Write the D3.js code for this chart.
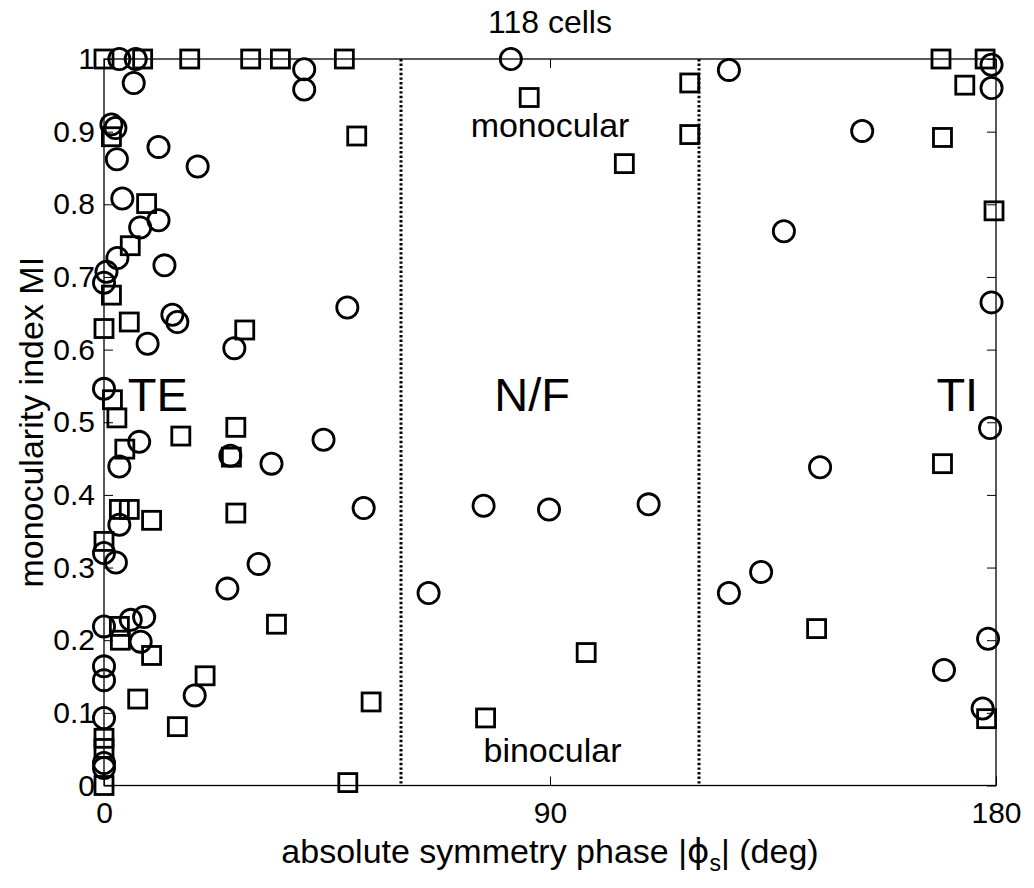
<!DOCTYPE html>
<html>
<head>
<meta charset="utf-8">
<script src="https://cdn.jsdelivr.net/npm/d3@7"></script>
<style>
  body { margin: 0; background: #fff; }
  text { font-family: "Liberation Sans", Arial, sans-serif; fill: #000; }
</style>
</head>
<body>
<div id="wrapper"></div>
<script>
// circles: [phase (deg), MI]
const circles = [
  [3.1, 1.0], [6.4, 1.0], [6.0, 0.967], [40.4, 0.986], [40.4, 0.958],
  [1.5, 0.91], [2.3, 0.905], [2.6, 0.862], [11.0, 0.879], [18.9, 0.852],
  [3.7, 0.808], [11.0, 0.778], [7.3, 0.768], [2.7, 0.726], [12.2, 0.716],
  [0.5, 0.707], [0, 0.692], [13.8, 0.648], [14.8, 0.638], [8.8, 0.608],
  [26.3, 0.602], [49.1, 0.658], [0, 0.546], [7.1, 0.473], [3.1, 0.439],
  [25.5, 0.454], [33.8, 0.443], [44.3, 0.476], [52.4, 0.382], [3.1, 0.359],
  [0, 0.320], [2.4, 0.307], [31.2, 0.305], [24.9, 0.271], [0, 0.219],
  [5.4, 0.228], [8.1, 0.232], [7.4, 0.198], [0, 0.164], [0, 0.145],
  [18.3, 0.124], [0, 0.093], [0, 0.031], [0, 0.024],
  [82.1, 1.0], [76.6, 0.385], [89.8, 0.380], [109.9, 0.387], [65.5, 0.265],
  [126.1, 0.985], [179.1, 0.992], [179.1, 0.960], [153.0, 0.901], [137.2, 0.763],
  [179.1, 0.665], [178.8, 0.492], [144.5, 0.438], [132.6, 0.294], [126.1, 0.265],
  [178.4, 0.202], [169.5, 0.159], [177.3, 0.106]
];

// squares: [phase (deg), MI]
const squares = [
  [0, 1.0], [7.8, 1.0], [17.3, 1.0], [29.6, 1.0], [35.6, 1.0], [48.5, 1.0],
  [51.0, 0.894], [1.5, 0.893], [8.6, 0.801], [5.3, 0.743], [1.5, 0.675],
  [5.1, 0.638], [0, 0.629], [28.4, 0.627], [1.7, 0.531], [2.6, 0.506],
  [4.2, 0.463], [15.5, 0.481], [26.6, 0.493], [25.7, 0.452], [3.1, 0.380],
  [5.1, 0.380], [9.6, 0.365], [26.6, 0.375], [0, 0.336], [34.8, 0.222],
  [3.1, 0.219], [3.3, 0.200], [9.6, 0.179], [6.8, 0.119], [20.4, 0.151],
  [14.8, 0.081], [0, 0.065], [0, 0.051], [0, 0.0], [53.9, 0.115], [49.2, 0.004],
  [85.8, 0.947], [118.2, 0.967], [118.2, 0.896], [105.0, 0.856], [97.3, 0.183], [77.0, 0.093],
  [168.9, 1.0], [177.8, 1.0], [173.7, 0.964], [169.2, 0.892], [179.6, 0.791],
  [169.2, 0.443], [143.8, 0.216], [178.1, 0.092]
];

const boundaries = [60, 120];
const xTicks = [0, 90, 180];
const yTicks = [0, 0.1, 0.2, 0.3, 0.4, 0.5, 0.6, 0.7, 0.8, 0.9, 1];
const regionLabels = ["TE", "N/F", "TI"];

const width = 1034, height = 888;
const margin = { top: 59, right: 38, bottom: 102.5, left: 104 };
const boundedWidth = width - margin.left - margin.right;
const boundedHeight = height - margin.top - margin.bottom;

const svg = d3.select("#wrapper").append("svg")
  .attr("width", width)
  .attr("height", height);
const bounds = svg.append("g")
  .attr("transform", `translate(${margin.left},${margin.top})`);

const x = d3.scaleLinear().domain([0, 180]).range([0, boundedWidth]);
const y = d3.scaleLinear().domain([0, 1]).range([boundedHeight, 0]);

// region boundaries (dotted)
bounds.selectAll(".boundary")
  .data(boundaries)
  .join("line")
  .attr("x1", d => Math.round(x(d))).attr("x2", d => Math.round(x(d)))
  .attr("y1", 0).attr("y2", boundedHeight)
  .attr("stroke", "#000")
  .attr("stroke-width", 3)
  .attr("stroke-dasharray", "2.4,2.2");

// axes, ticks pointing inward
const fmt = d => String(d);
const tickStyle = g => {
  g.select(".domain").remove();
  g.selectAll(".tick line").attr("stroke", "#000").attr("stroke-width", 1);
  g.selectAll(".tick text")
    .style("font-family", '"Liberation Sans", Arial, sans-serif')
    .style("font-size", "30px")
    .attr("fill", "#000");
};
bounds.append("g")
  .attr("transform", `translate(0,${boundedHeight})`)
  .call(d3.axisBottom(x).tickValues(xTicks).tickFormat(fmt).tickSizeInner(-9).tickSizeOuter(0).tickPadding(16))
  .call(tickStyle);
bounds.append("g")
  .call(d3.axisTop(x).tickValues(xTicks).tickFormat("").tickSizeInner(-9).tickSizeOuter(0))
  .call(tickStyle);
bounds.append("g")
  .call(d3.axisLeft(y).tickValues(yTicks).tickFormat(fmt).tickSizeInner(-9).tickSizeOuter(0).tickPadding(9))
  .call(tickStyle);
bounds.append("g")
  .attr("transform", `translate(${boundedWidth},0)`)
  .call(d3.axisRight(y).tickValues(yTicks).tickFormat("").tickSizeInner(-9).tickSizeOuter(0))
  .call(tickStyle);

// box
bounds.append("rect")
  .attr("width", boundedWidth)
  .attr("height", boundedHeight)
  .attr("fill", "none")
  .attr("stroke", "#000")
  .attr("stroke-width", 1.3);

// markers
bounds.selectAll(".sq")
  .data(squares)
  .join("rect")
  .attr("x", d => x(d[0]) - 9)
  .attr("y", d => y(d[1]) - 9)
  .attr("width", 18).attr("height", 18)
  .attr("fill", "none")
  .attr("stroke", "#000")
  .attr("stroke-width", 2.8);
bounds.selectAll(".circ")
  .data(circles)
  .join("circle")
  .attr("cx", d => x(d[0]))
  .attr("cy", d => y(d[1]))
  .attr("r", 10.6)
  .attr("fill", "none")
  .attr("stroke", "#000")
  .attr("stroke-width", 2.8);

// region labels
const regionX = [4.8, 86.4, 176.4];
const regionAnchor = ["start", "middle", "end"];
bounds.selectAll(".region")
  .data(regionLabels)
  .join("text")
  .attr("x", (d, i) => x(regionX[i]))
  .attr("y", y(0.515))
  .attr("text-anchor", (d, i) => regionAnchor[i])
  .style("font-size", "47px")
  .text(d => d);

bounds.append("text")
  .attr("x", x(90)).attr("y", y(0.893))
  .attr("text-anchor", "middle")
  .style("font-size", "34px")
  .text("monocular");
bounds.append("text")
  .attr("x", x(90.5)).attr("y", y(0.033))
  .attr("text-anchor", "middle")
  .style("font-size", "34px")
  .text("binocular");

// title
svg.append("text")
  .attr("x", margin.left + x(90)).attr("y", 33)
  .attr("text-anchor", "middle")
  .style("font-size", "32px")
  .text("118 cells");

// x label
const xl = svg.append("text")
  .attr("x", margin.left + x(90)).attr("y", 863)
  .attr("text-anchor", "middle")
  .style("font-size", "34px");
xl.append("tspan").text("absolute symmetry phase |");
xl.append("tspan").style("font-family", '"DejaVu Sans", sans-serif').text("\u03d5");
xl.append("tspan").attr("dy", 8).style("font-size", "23px").text("s");
xl.append("tspan").attr("dy", -8).text("| (deg)");

// y label
svg.append("text")
  .attr("transform", `translate(43,${margin.top + boundedHeight / 2}) rotate(-90)`)
  .attr("text-anchor", "middle")
  .style("font-size", "34px")
  .text("monocularity index MI");
</script>
</body>
</html>
